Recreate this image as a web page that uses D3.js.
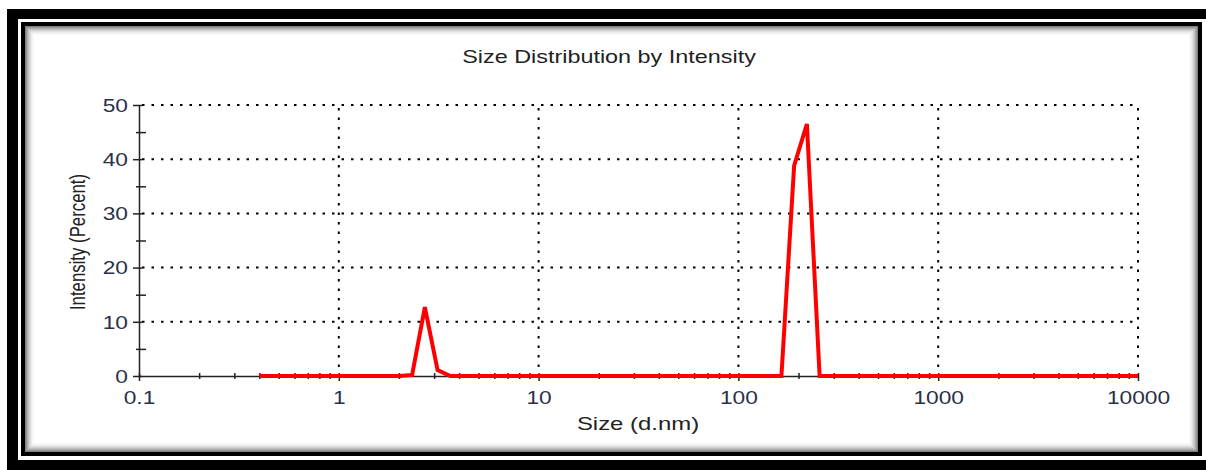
<!DOCTYPE html>
<html>
<head>
<meta charset="utf-8">
<script src="https://cdn.jsdelivr.net/npm/d3@7"></script>
<style>
  body { margin: 0; background: #fff; }
  svg { display: block; font-family: "Liberation Sans", Arial, sans-serif; }
</style>
</head>
<body>
<div id="mainchart"></div>
<script>
// size bins (d.nm) and intensity (%)
var sizes = [0.4, 0.4632, 0.5365, 0.6213, 0.7195, 0.8332, 0.9649, 1.117, 1.294, 1.499,
  1.736, 2.010, 2.328, 2.696, 3.122, 3.615, 4.187, 4.849, 5.615, 6.503,
  7.531, 8.721, 10.10, 11.70, 13.54, 15.69, 18.17, 21.04, 24.36, 28.21,
  32.67, 37.84, 43.82, 50.75, 58.77, 68.06, 78.82, 91.28, 105.7, 122.4,
  141.8, 164.2, 190.1, 220.2, 255.0, 295.3, 342.0, 396.1, 458.7, 531.2,
  615.1, 712.4, 825.0, 955.4, 1106, 1281, 1484, 1718, 1990, 2305,
  2669, 3091, 3580, 4145, 4801, 5560, 6439, 7456, 8635, 10000];
var intensity = [0, 0, 0, 0, 0, 0, 0, 0, 0, 0,
  0, 0, 0.2, 12.7, 1.1, 0, 0, 0, 0, 0,
  0, 0, 0, 0, 0, 0, 0, 0, 0, 0,
  0, 0, 0, 0, 0, 0, 0, 0, 0, 0,
  0, 0, 38.8, 46.5, 0, 0, 0, 0, 0, 0,
  0, 0, 0, 0, 0, 0, 0, 0, 0, 0,
  0, 0, 0, 0, 0, 0, 0, 0, 0, 0];
var xMajor = [0.1, 1, 10, 100, 1000, 10000];
var xLabels = ["0.1", "1", "10", "100", "1000", "10000"];
var yMajor = [0, 10, 20, 30, 40, 50];
var yMinor = [5, 15, 25, 35, 45];
var title = "Size Distribution by Intensity";
var xTitle = "Size (d.nm)";
var yTitle = "Intensity (Percent)";

var W = 1206, H = 470, stretch = 1.3, textCol = "#222", tickCol = "#2a3048";

var svg = d3.select("#mainchart").append("svg")
  .attr("width", W).attr("height", H);

// frame
svg.append("rect").attr("x", 7).attr("y", 9).attr("width", W).attr("height", H).attr("fill", "#000");
svg.append("rect").attr("x", 18).attr("y", 19).attr("width", W).attr("height", 441).attr("fill", "#fff");
svg.append("rect").attr("x", 21).attr("y", 22).attr("width", 1181).attr("height", 434).attr("fill", "#000");
svg.append("rect").attr("x", 25).attr("y", 26).attr("width", 1173).attr("height", 426).attr("fill", "#fff");
for (var i = 0; i < 10; i++) {
  var a = 0.5 * Math.pow(1 - i / 10, 2);
  svg.append("rect")
    .attr("x", 25 + i + 0.5).attr("y", 26 + i + 0.5)
    .attr("width", 1173 - 2 * i - 1).attr("height", 426 - 2 * i - 1)
    .attr("fill", "none").attr("stroke", "#000").attr("stroke-opacity", a);
}

var x = d3.scaleLog().domain([0.1, 10000]).range([139, 1138]);
var y = d3.scaleLinear().domain([0, 50]).range([376, 105]);

var xMinor = [];
[0.1, 1, 10, 100, 1000].forEach(function(d) {
  for (var k = 2; k <= 9; k++) xMinor.push(d * k);
});

// grid
var grid = svg.append("g").attr("stroke", "#000").attr("stroke-width", 2)
  .attr("stroke-dasharray", "2.5,7");
grid.selectAll("line.h").data(yMajor.slice(1)).enter().append("line")
  .attr("x1", x(0.1) + 3).attr("x2", x(10000))
  .attr("y1", function(d) { return y(d); }).attr("y2", function(d) { return y(d); });
grid.selectAll("line.v").data(xMajor.slice(1)).enter().append("line")
  .attr("x1", function(d) { return x(d); }).attr("x2", function(d) { return x(d); })
  .attr("y1", y(50) + 3).attr("y2", y(0));

// x axis
var xAxisMinor = d3.axisBottom(x).tickValues(xMinor).tickFormat("").tickSizeOuter(0);
var gx = svg.append("g").attr("transform", "translate(0," + y(0) + ")").call(xAxisMinor);
gx.select(".domain").attr("stroke", "#222").attr("stroke-width", 1.5);
gx.selectAll(".tick line").attr("y1", -3).attr("y2", 3).attr("stroke", "#222").attr("stroke-width", 1.5);
var xAxisMajor = d3.axisBottom(x).tickValues(xMajor)
  .tickFormat(function(d, i) { return xLabels[i]; }).tickSizeOuter(0);
var gx2 = svg.append("g").attr("transform", "translate(0," + y(0) + ")").call(xAxisMajor);
gx2.select(".domain").remove();
gx2.selectAll(".tick line").attr("y1", -3).attr("y2", 5).attr("stroke", "#222").attr("stroke-width", 1.5);
gx2.selectAll(".tick text").attr("y", 0).attr("dy", 0).attr("fill", tickCol)
  .attr("font-size", 17.5).attr("font-family", "Liberation Sans, Arial, sans-serif")
  .attr("transform", "translate(0,28) scale(" + stretch + ",1)");

// y axis
var yAxisMinor = d3.axisLeft(y).tickValues(yMinor).tickFormat("").tickSizeOuter(0);
var gy = svg.append("g").attr("transform", "translate(" + x(0.1) + ",0)").call(yAxisMinor);
gy.select(".domain").attr("stroke", "#222").attr("stroke-width", 1.5);
gy.selectAll(".tick line").attr("x1", -3).attr("x2", 7).attr("stroke", "#222").attr("stroke-width", 1.5);
var yAxisMajor = d3.axisLeft(y).tickValues(yMajor).tickSizeOuter(0);
var gy2 = svg.append("g").attr("transform", "translate(" + x(0.1) + ",0)").call(yAxisMajor);
gy2.select(".domain").remove();
gy2.selectAll(".tick line").attr("x1", -6).attr("x2", 3).attr("stroke", "#222").attr("stroke-width", 1.5);
gy2.selectAll(".tick text").attr("x", 0).attr("dy", "0.36em").attr("fill", tickCol)
  .attr("font-size", 17.5).attr("font-family", "Liberation Sans, Arial, sans-serif")
  .attr("transform", "translate(-11,0) scale(" + stretch + ",1)");

// titles
svg.append("text").attr("text-anchor", "middle").attr("fill", textCol).attr("font-size", 18)
  .attr("transform", "translate(609,63) scale(" + stretch + ",1)").text(title);
svg.append("text").attr("text-anchor", "middle").attr("fill", textCol).attr("font-size", 18.4)
  .attr("transform", "translate(638,430) scale(" + stretch + ",1)").text(xTitle);
svg.append("text").attr("text-anchor", "middle").attr("fill", textCol).attr("font-size", 16.8)
  .attr("transform", "translate(85,242) scale(" + stretch + ",1) rotate(-90)").text(yTitle);

// distribution line
var line = d3.line()
  .x(function(d, i) { return x(sizes[i]); })
  .y(function(d) { return y(d); });
svg.append("path").datum(intensity)
  .attr("fill", "none").attr("stroke", "#ff0000").attr("stroke-width", 4)
  .attr("stroke-linejoin", "miter")
  .attr("d", line);
</script>
</body>
</html>
